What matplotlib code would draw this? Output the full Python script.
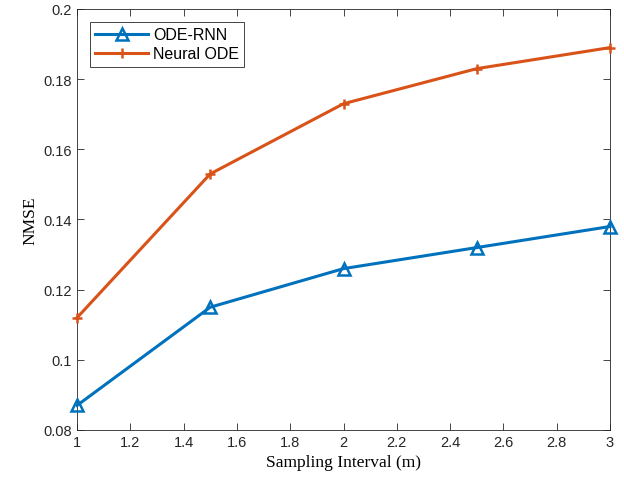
import matplotlib
matplotlib.use("Agg")
import matplotlib.pyplot as plt

interval = [1, 1.5, 2, 2.5, 3]
ode_rnn = [0.087, 0.115, 0.126, 0.132, 0.138]
neural_ode = [0.112, 0.153, 0.173, 0.183, 0.189]

plt.rcParams['font.family'] = 'Liberation Sans'

fig = plt.figure(figsize=(6.24, 4.85), dpi=100)
ax = fig.add_axes([77 / 624, 1 - 431 / 485, (610 - 77) / 624, (431 - 10) / 485])

ax.plot(interval, ode_rnn, color='#0072BD', lw=2.2, marker='^', ms=9,
        mfc='none', mew=1.8, label='ODE-RNN', clip_on=False, zorder=3)
ax.plot(interval, neural_ode, color='#D95319', lw=2.2, marker='+', ms=7,
        mew=1.8, label='Neural ODE', clip_on=False, zorder=3)

ax.set_xlim(1, 3)
ax.set_ylim(0.08, 0.2)
ax.set_xticks([1, 1.2, 1.4, 1.6, 1.8, 2, 2.2, 2.4, 2.6, 2.8, 3])
ax.set_xticklabels(['1', '1.2', '1.4', '1.6', '1.8', '2', '2.2', '2.4', '2.6', '2.8', '3'])
ax.set_yticks([0.08, 0.1, 0.12, 0.14, 0.16, 0.18, 0.2])
ax.set_yticklabels(['0.08', '0.1', '0.12', '0.14', '0.16', '0.18', '0.2'])
ax.tick_params(direction='in', top=True, right=True, labelsize=10.5,
               colors='#262626', length=5, width=0.6)
for s in ax.spines.values():
    s.set_color('#262626')
    s.set_linewidth(0.6)

ax.set_xlabel('Sampling Interval (m)', family='Liberation Serif', fontsize=12.5)
ax.set_ylabel('NMSE', family='Liberation Serif', fontsize=12.5)

leg = ax.legend(loc='upper left', fontsize=11.5, fancybox=False, framealpha=1,
                edgecolor='#262626', handlelength=3.3, borderaxespad=0.8,
                labelspacing=0.25, handletextpad=0.3, borderpad=0.35)
leg.get_frame().set_linewidth(0.6)

fig.savefig('out.png', dpi=100)
